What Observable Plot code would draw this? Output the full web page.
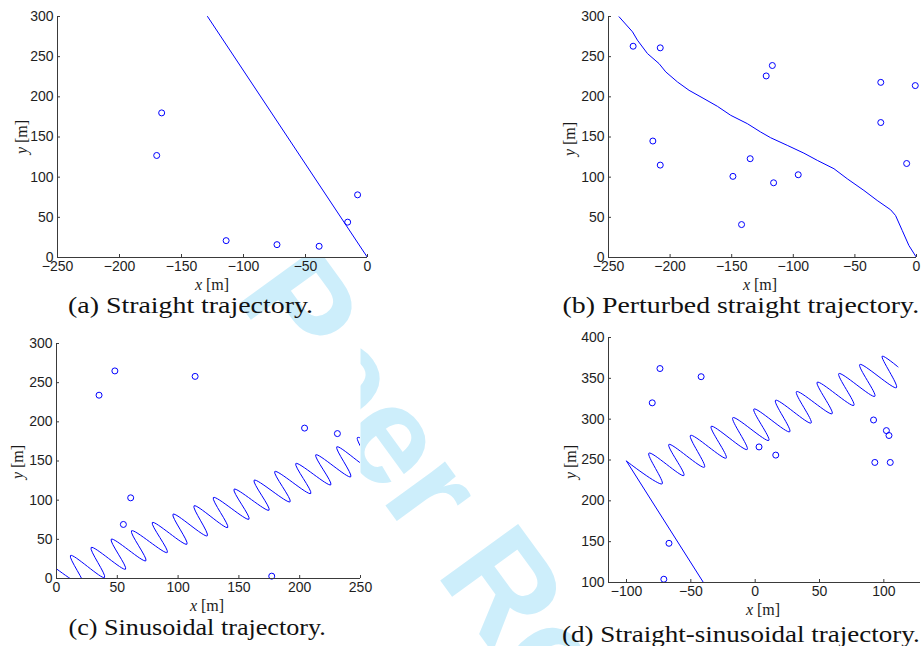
<!DOCTYPE html>
<html><head><meta charset="utf-8">
<script src="https://cdn.jsdelivr.net/npm/d3@7"></script>
<script src="https://cdn.jsdelivr.net/npm/@observablehq/plot@0.6"></script>
<style>
body{margin:0;background:#fff;}
#wrap{position:relative;width:923px;height:646px;overflow:hidden;background:#fff;}
.panel{position:absolute;}
.lab{position:absolute;white-space:nowrap;font-family:"Liberation Serif","DejaVu Serif",serif;color:#1a1a1a;line-height:1;}
.xl{font-size:16px;transform:translate(-50%,-50%);}
.yl{font-size:16px;transform:translate(-50%,-50%) rotate(-90deg);}
.cap{font-size:24px;color:#111;}
#wm{position:absolute;left:0;top:0;}
</style></head>
<body><div id="wrap"></div>
<script>
// ---------- data ----------
// (a) straight trajectory
const aTrajX = [0, -129];
const aTrajY = [0, 300];
const aSensX = [-166, -170, -114, -73, -39, -16, -8];
const aSensY = [180, 127, 21, 16, 14, 44, 78];

// (b) perturbed straight trajectory
const bTrajX = [-241.4, -230.5, -226.5, -218.4, -209, -203.5, -194, -184.6, -172.5, -161.6, -150.8, -137.3, -126.5, -118.4, -104.9, -91.4, -80.5, -67, -56.2, -42.7, -31.9, -21, -17, -11.6, -6.2, 0];
const bTrajY = [299.6, 280.9, 270.5, 253.9, 241.4, 231, 218.5, 208.1, 197.7, 188.2, 177, 166.6, 156.2, 149.1, 139.6, 129.9, 120.9, 110.5, 98, 83.5, 71, 59.4, 52.3, 33.7, 15, 0];
const bSensX = [-230, -208, -122, -117, -29, -1, -29, -214, -208, -135, -149, -116, -96, -142, -8];
const bSensY = [263, 261, 226, 239, 218, 214, 168, 145, 115, 123, 101, 93, 103, 41, 117];

// (c) sinusoidal trajectory (peaks and troughs)
const cTrajX = [-5.5, 22.5, 11.5, 39.5, 28.5, 56.8, 45.0, 73.5, 61.7, 91.1, 78.8, 107.3, 95.8, 124.0, 113.1, 140.8, 129.0, 158.3, 146.0, 174.8, 162.5, 192.1, 179.5, 209.1, 196.8, 225.6, 213.2, 242.0, 230.5, 258.5, 247.5, 275.5];
const cTrajY = [18.7, -8.9, 29.4, 1.3, 39.6, 11.9, 50.2, 22.6, 60.9, 33.2, 71.5, 43.8, 82.1, 54.5, 92.8, 65.1, 103.4, 75.7, 114.0, 87.2, 125.5, 97.9, 136.6, 108.5, 146.8, 119.6, 157.9, 129.8, 168.1, 140.0, 180.0, 151.9];
const cSensX = [35, 48, 114, 61, 55, 177, 204, 231];
const cSensY = [234, 265, 258, 103, 69, 3, 192, 185];

// (d) straight-sinusoidal trajectory
const dLineX = [0, -100];
const dLineY = [0, 248.6];
const dSinX = [-100, -72.3, -82.6, -55.4, -67.1, -39.4, -50.3, -22.5, -34.2, -6.2, -17.4, 10.6, -1.0, 26.9, 15.8, 43.5, 32.1, 59.8, 48.2, 76.7, 65.0, 93, 81.3, 109.8, 98.7, 111];
const dSinY = [248.6, 220.8, 258.4, 231, 269, 241.2, 280.1, 252.3, 291.2, 262.9, 301.8, 274, 312.4, 284.6, 323.1, 295.3, 333.7, 306.7, 345.2, 316.9, 355.8, 328, 366.9, 338.6, 377.1, 364];
const dSensX = [-74, -42, -80, 3, 16, 92, 102, 104, 93, 105, -67, -71];
const dSensY = [362, 352, 320, 266, 256, 299, 286, 280, 247, 247, 148, 104];

// ticks
const negXTicks = [-250, -200, -150, -100, -50, 0];
const posXTicks = [0, 50, 100, 150, 200, 250];
const yTicks300 = [0, 50, 100, 150, 200, 250, 300];
const dXTicks = [-100, -50, 0, 50, 100];
const dYTicks = [100, 150, 200, 250, 300, 350, 400];

const captions = ["(a) Straight trajectory.", "(b) Perturbed straight trajectory.", "(c) Sinusoidal trajectory.", "(d) Straight-sinusoidal trajectory."];

// ---------- drawing ----------
const BLUE = "#0000ff";
const AXIS = "#3a3a3a";
const FONT = '"Liberation Sans", Arial, Helvetica, sans-serif';
const pts = (xs, ys) => xs.map((x, i) => ({x, y: ys[i]}));

const wrap = document.getElementById("wrap");

// watermark (behind the axes)
const wm = d3.select(wrap).append("svg").attr("id", "wm").attr("width", 923).attr("height", 646);
wm.append("text")
  .attr("x", 78).attr("y", 82)
  .attr("transform", "rotate(54 78 82)")
  .attr("font-family", FONT).attr("font-weight", "bold").attr("font-size", 140)
  .attr("fill", "#cdeefb")
  .text("For Peer Review");

function panel(cfg) {
  const fw = cfg.width - cfg.ml - cfg.mr, fh = cfg.height - cfg.mt - cfg.mb;
  const svg = Plot.plot({
    width: cfg.width, height: cfg.height,
    marginLeft: cfg.ml, marginRight: cfg.mr, marginTop: cfg.mt, marginBottom: cfg.mb,
    x: {domain: cfg.xDomain}, y: {domain: cfg.yDomain},
    style: {background: "transparent", fontFamily: FONT, fontSize: "14px", color: "#1e1e1e", overflow: "visible"},
    marks: [
      Plot.frame({fill: "white", stroke: "none"}),
      ...cfg.marks,
      Plot.ruleX([cfg.xDomain[0]], {stroke: AXIS}),
      Plot.ruleY([cfg.yDomain[0]], {stroke: AXIS}),
      Plot.tickX(cfg.xTicks, {x: d => d, stroke: AXIS, insetTop: fh - 3}),
      Plot.tickY(cfg.yTicks, {y: d => d, stroke: AXIS, insetRight: fw - 3}),
      Plot.axisX({ticks: cfg.xTicks, tickSize: 0, tickPadding: 4, label: null}),
      Plot.axisY({ticks: cfg.yTicks, tickSize: 0, tickPadding: 4, label: null})
    ]
  });
  svg.classList.add("panel");
  svg.style.left = cfg.left + "px";
  svg.style.top = cfg.top + "px";
  wrap.appendChild(svg);
}

const lineOpts = {x: "x", y: "y", stroke: BLUE, strokeWidth: 1, clip: true};
const dotOpts = {x: "x", y: "y", r: 3, stroke: BLUE, strokeWidth: 1, fill: "none"};

panel({left: 0, top: 0, width: 380, height: 280, ml: 57, mr: 13, mt: 16, mb: 23,
  xDomain: [-250, 0], yDomain: [0, 300], xTicks: negXTicks, yTicks: yTicks300,
  marks: [Plot.line(pts(aTrajX, aTrajY), lineOpts), Plot.dot(pts(aSensX, aSensY), dotOpts)]});

panel({left: 550, top: 0, width: 373, height: 280, ml: 58, mr: 7, mt: 16, mb: 23,
  xDomain: [-250, 0], yDomain: [0, 300], xTicks: negXTicks, yTicks: yTicks300,
  marks: [Plot.line(pts(bTrajX, bTrajY), lineOpts), Plot.dot(pts(bSensX, bSensY), dotOpts)]});

panel({left: 0, top: 325, width: 380, height: 280, ml: 56, mr: 20, mt: 18, mb: 27,
  xDomain: [0, 250], yDomain: [0, 300], xTicks: posXTicks, yTicks: yTicks300,
  marks: [Plot.line(pts(cTrajX, cTrajY), {...lineOpts, curve: "catmull-rom"}), Plot.dot(pts(cSensX, cSensY), dotOpts)]});

panel({left: 550, top: 320, width: 373, height: 290, ml: 58, mr: 3, mt: 17, mb: 28,
  xDomain: [-114, 128.5], yDomain: [100, 400], xTicks: dXTicks, yTicks: dYTicks,
  marks: [Plot.line(pts(dLineX, dLineY), lineOpts),
          Plot.line(pts(dSinX, dSinY), {...lineOpts, curve: "catmull-rom"}),
          Plot.dot(pts(dSensX, dSensY), dotOpts)]});

// axis titles
function label(cls, html, x, y) {
  const el = document.createElement("div");
  el.className = "lab " + cls;
  el.innerHTML = html;
  el.style.left = x + "px";
  el.style.top = y + "px";
  wrap.appendChild(el);
  return el;
}
const XL = '<i>x</i> [m]', YL = '<i>y</i> [m]';
[[212, 285], [760, 285], [207, 606], [763, 610]].forEach(([x, y]) => label("xl", XL, x, y));
[[22, 137], [570, 139], [18, 462], [571, 462]].forEach(([x, y]) => label("yl", YL, x, y));

// captions, stretched to the width they take in the picture
[[190, 305, 245], [741, 305, 357], [197, 627, 257], [741, 634, 358]].forEach(([cx, cy, w], i) => {
  const el = label("cap", captions[i], 0, 0);
  const nat = el.offsetWidth, h = el.offsetHeight;
  const s = w / nat;
  el.style.left = (cx - nat / 2) + "px";
  el.style.top = (cy - h / 2) + "px";
  el.style.transform = `scaleX(${s})`;
  el.style.transformOrigin = "50% 50%";
});
</script>
</body></html>
